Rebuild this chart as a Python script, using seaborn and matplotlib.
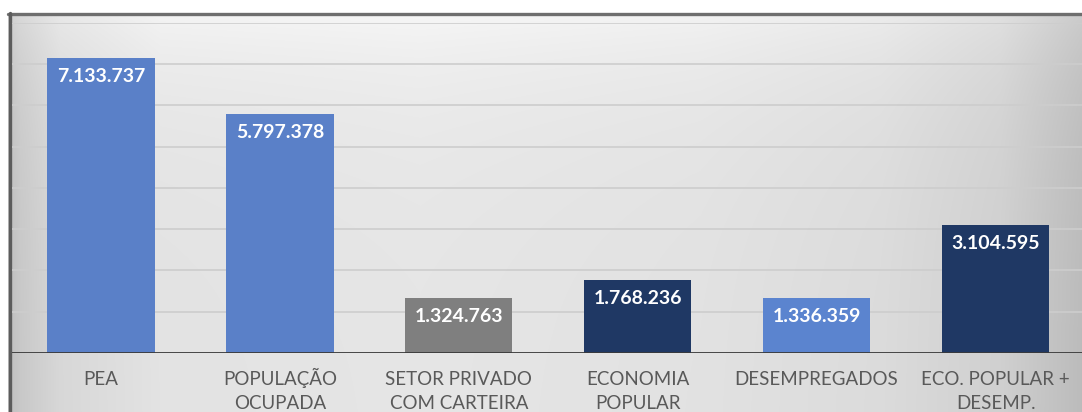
import numpy as np
import matplotlib
matplotlib.use("Agg")
import matplotlib.pyplot as plt
from matplotlib.lines import Line2D
import seaborn as sns

# --- data -------------------------------------------------------------
categories = [
    "PEA",
    "POPULAÇÃO\nOCUPADA",
    "SETOR PRIVADO\nCOM CARTEIRA",
    "ECONOMIA\nPOPULAR",
    "DESEMPREGADOS",
    "ECO. POPULAR +\nDESEMP.",
]
values = [7133737, 5797378, 1324763, 1768236, 1336359, 3104595]
bar_colors = ["#5a80c8", "#5a80c8", "#7f7f7f", "#1f3864", "#5b84cf", "#1f3864"]

# --- figure -----------------------------------------------------------
sns.set_theme(style="white")
plt.rcParams["font.family"] = ["Lato", "DejaVu Sans"]

W, H = 1082, 412
fig = plt.figure(figsize=(W / 100, H / 100), dpi=100)
fig.patch.set_facecolor("white")

# soft grey panel background, lighter near the top and the left-centre
bg = fig.add_axes([0, 0, 1, 1], zorder=0)
bg.set_axis_off()
px = np.arange(W)
py = np.arange(H)
h = np.interp(px, [8, 20, 60, 160, 420, 700, 880, 1000, 1082],
              [0.81, 0.85, 0.91, 0.955, 0.965, 0.95, 0.925, 0.88, 0.80])
g = 0.065 * (1 - np.exp(-np.clip(py - 13, 0, None) / 80.0))
shade = np.clip(h[None, :] - g[:, None], 0, 1)
rgb = np.dstack([shade, shade, shade])
rgb[:13, :, :] = 1.0
rgb[:, :8, :] = 1.0
bg.imshow(rgb, extent=[0, W, H, 0], aspect="auto", interpolation="bilinear")
bg.set_xlim(0, W)
bg.set_ylim(H, 0)
# panel border (top and left)
bg.add_line(Line2D([8, W], [13.5, 13.5], color="#6e6e6e", lw=2.4))
bg.add_line(Line2D([9.5, 9.5], [13, H], color="#5c5c5c", lw=2.4))

# --- bar chart ---------------------------------------------------------
base_y = 353
px_per_unit = 41.3 / 1e6
ymax = 8e6
ax = fig.add_axes([11.5 / W, (H - base_y) / H, 1073.5 / W,
                   ymax * px_per_unit / H], zorder=1)
ax.patch.set_alpha(0)

sns.barplot(x=categories, y=values, hue=categories, palette=bar_colors,
            saturation=1, width=0.6, legend=False, linewidth=0, ax=ax, zorder=3)

ax.set_ylim(0, ymax)
ax.set_xlim(-0.5, len(categories) - 0.5)
ax.set_yticks(np.arange(1e6, ymax + 1, 1e6))
ax.yaxis.grid(True, color="#cdcdcd", lw=1.2, zorder=0)
ax.set_axisbelow(True)
ax.tick_params(axis="y", left=False, labelleft=False)

# every category label gets two lines so the first lines share a baseline
tick_text = [c if "\n" in c else c + "\n " for c in categories]
ax.set_xticks(range(len(categories)), tick_text)
ax.tick_params(axis="x", length=0, pad=40.5, labelsize=13.5, labelcolor="#595959")
for lbl in ax.get_xticklabels():
    lbl.set_linespacing(1.55)
    lbl.set_verticalalignment("baseline")
for s in ax.spines.values():
    s.set_visible(False)
ax.set_xlabel("")
ax.set_ylabel("")
ax.axhline(0, color="#3a3a3a", lw=1.3, zorder=4)

# value labels inside the top of each bar
for i, v in enumerate(values):
    txt = f"{v:,}".replace(",", ".")
    ax.annotate(txt, (i, v), xytext=(0, -24), textcoords="offset pixels",
                ha="center", va="baseline", color="white",
                fontsize=14, fontweight="bold", zorder=5)

fig.savefig("out.png", dpi=100)
